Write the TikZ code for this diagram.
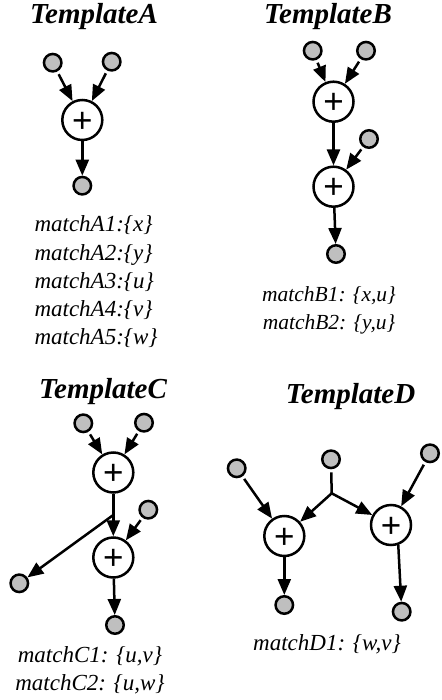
\documentclass[tikz,border=0pt]{standalone}
\usepackage{fontspec}
\setmainfont{Liberation Serif}
\newfontfamily\plusfont{Liberation Sans}
\usetikzlibrary{arrows.meta}

\begin{document}
\begin{tikzpicture}[x=1pt,y=-1pt,
  gnode/.style={circle,draw,fill=black!25,line width=2.5pt,minimum size=17.5pt,inner sep=0pt},
  pnode/.style={circle,draw,fill=white,line width=2.5pt,minimum size=40pt,inner sep=0pt,
    font=\plusfont\fontsize{35}{35}\selectfont,text height=24.6pt,text depth=0pt},
  arr/.style={line width=2.5pt,-{Triangle[length=16pt,width=13pt]}},
  inarr/.style={arr,shorten <=3pt},
  ttl/.style={font=\fontsize{29}{29}\selectfont\bfseries\itshape,anchor=base},
  mtxt/.style={font=\fontsize{23}{23}\selectfont\itshape},
  mtxtsm/.style={font=\fontsize{21.5}{21.5}\selectfont\itshape}]

\useasboundingbox (0,0) rectangle (441,700);

% ---- Template A ----
\node[ttl] (tA) at (94,24) {TemplateA};
\node[gnode] (a1) at (52.7,62.7) {};
\node[gnode] (a2) at (111.7,61.7) {};
\node[pnode] (ap) at (82.3,120) {+};
\node[gnode] (a3) at (82.3,185.7) {};
\draw[inarr] (a1) -- (ap);
\draw[inarr] (a2) -- (ap);
\draw[arr] (ap) -- (a3);
\node[mtxt,anchor=base west] (mA1) at (31,232) {matchA1:\{x\}};
\node[mtxt,anchor=base west] (mA2) at (31,260) {matchA2:\{y\}};
\node[mtxt,anchor=base west] (mA3) at (31,288) {matchA3:\{u\}};
\node[mtxt,anchor=base west] (mA4) at (31,316) {matchA4:\{v\}};
\node[mtxt,anchor=base west] (mA5) at (31,344) {matchA5:\{w\}};

% ---- Template B ----
\node[ttl] (tB) at (328,24) {TemplateB};
\node[gnode] (b1) at (312.7,50.7) {};
\node[gnode] (b2) at (366,50.7) {};
\node[pnode] (bp1) at (333.5,101.7) {+};
\node[gnode] (b3) at (369,139) {};
\node[pnode] (bp2) at (333.5,186.7) {+};
\node[gnode] (b4) at (336,254) {};
\draw[inarr] (b1) -- (bp1);
\draw[inarr] (b2) -- (bp1);
\draw[arr] (bp1) -- (bp2);
\draw[inarr] (b3) -- (bp2);
\draw[arr] (bp2) -- (b4);
\node[mtxtsm,anchor=base] (mB1) at (329,301) {matchB1: \{x,u\}};
\node[mtxtsm,anchor=base] (mB2) at (329,329) {matchB2: \{y,u\}};

% ---- Template C ----
\node[ttl] (tC) at (103,398.5) {TemplateC};
\node[gnode] (c1) at (83.3,423.3) {};
\node[gnode] (c2) at (144,422.7) {};
\node[pnode] (cp1) at (113.3,472.5) {+};
\node[gnode] (c3) at (148.3,509.7) {};
\node[pnode] (cp2) at (113.3,557.5) {+};
\node[gnode] (c4) at (19.3,583.3) {};
\node[gnode] (c5) at (115,625) {};
\coordinate (cb) at (113.3,515);
\draw[inarr] (c1) -- (cp1);
\draw[inarr] (c2) -- (cp1);
\draw[arr] (cp1) -- (cp2);
\draw[inarr] (c3) -- (cp2);
\draw[arr] (cb) -- (c4);
\draw[arr] (cp2) -- (c5);
\node[mtxt,anchor=base] (mC1) at (90,662) {matchC1: \{u,v\}};
\node[mtxt,anchor=base] (mC2) at (90,690) {matchC2: \{u,w\}};

% ---- Template D ----
\node[ttl] (tD) at (350.5,403.5) {TemplateD};
\node[gnode] (d1) at (236.7,468.3) {};
\node[gnode] (d2) at (331,459.3) {};
\node[gnode] (d3) at (430,453.3) {};
\node[pnode] (dp1) at (284.3,536) {+};
\node[pnode] (dp2) at (391,525) {+};
\node[gnode] (d4) at (284.3,605) {};
\node[gnode] (d5) at (401.7,611.7) {};
\coordinate (db) at (331.7,493.3);
\draw[line width=2.5pt,shorten <=3pt] (d2) -- (db);
\draw[arr] (db) -- (dp1);
\draw[arr] (db) -- (dp2);
\draw[inarr] (d1) -- (dp1);
\draw[inarr] (d3) -- (dp2);
\draw[arr] (dp1) -- (d4);
\draw[arr] (dp2.-70) -- (d5);
\node[mtxt,anchor=base] (mD1) at (327,650) {matchD1: \{w,v\}};

\end{tikzpicture}
\end{document}
